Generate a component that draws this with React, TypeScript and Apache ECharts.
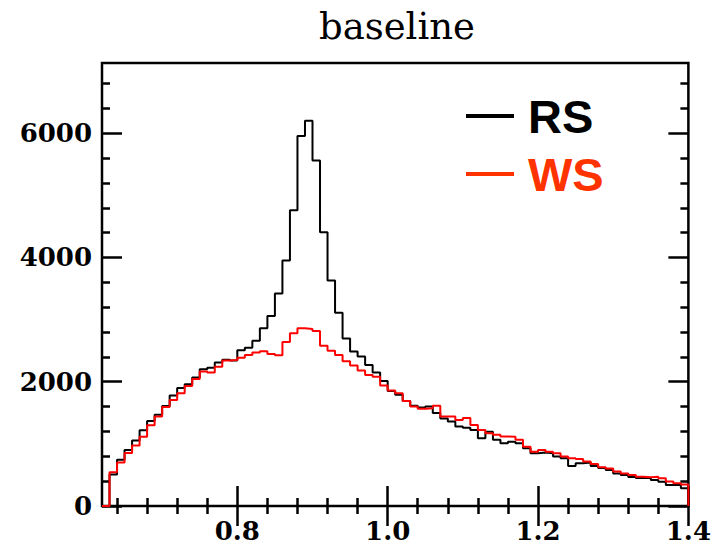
import React, { useEffect, useRef } from "react";
import * as echarts from "echarts";

// Histogram binning (bin edges along the x axis)
const binStart = 0.62;
const binWidth = 0.01;

// RS (right-sign) counts per bin, starting at 0.62
const rsCounts = [
  0, 505, 745, 900, 1055, 1220, 1370, 1470, 1610, 1780,
  1900, 1960, 2070, 2200, 2225, 2310, 2355, 2340, 2505, 2545,
  2660, 2860, 3060, 3420, 3950, 4760, 5955, 6200, 5560, 4405,
  3630, 3110, 2695, 2485, 2405, 2270, 2150, 2010, 1850, 1790,
  1690, 1615, 1585, 1600, 1495, 1410, 1360, 1280, 1260, 1225,
  1090, 1195, 1065, 1010, 1035, 1010, 930, 850, 860, 850,
  795, 770, 645, 690, 700, 645, 610, 580, 525, 500,
  465, 450, 450, 420, 390, 340, 340, 285,
];

// WS (wrong-sign) counts per bin, starting at 0.62
const wsCounts = [
  0, 545, 700, 855, 975, 1115, 1300, 1440, 1595, 1705,
  1815, 1930, 2045, 2165, 2150, 2240, 2340, 2350, 2385, 2430,
  2470, 2490, 2445, 2425, 2640, 2780, 2860, 2850, 2815, 2580,
  2500, 2430, 2330, 2260, 2180, 2110, 2080, 1940, 1860, 1815,
  1690, 1600, 1565, 1575, 1615, 1440, 1440, 1385, 1415, 1305,
  1225, 1170, 1145, 1120, 1115, 1065, 955, 875, 900, 875,
  850, 795, 770, 755, 715, 675, 625, 605, 555, 525,
  500, 472, 462, 470, 445, 395, 365, 345,
];

const xMin = 0.62;
const xMax = 1.4;
const yMin = 0;
const yMax = 7130;

const xMajorTicks = [0.8, 1.0, 1.2, 1.4];
const xMinorTicks = [
  0.64, 0.68, 0.72, 0.76, 0.84, 0.88, 0.92, 0.96,
  1.04, 1.08, 1.12, 1.16, 1.24, 1.28, 1.32, 1.36,
];
const yMajorTicks = [0, 2000, 4000, 6000];
const yMinorTicks = [
  400, 800, 1200, 1600, 2400, 2800, 3200, 3600,
  4400, 4800, 5200, 5600, 6400, 6800,
];

const titleText = "baseline";
const legendItems = [
  { name: "RS", color: "#000000" },
  { name: "WS", color: "#ff3300" },
];
const rsLineColor = "#000000";
const wsLineColor = "#ff0000";

function toSteps(counts: number[]): number[][] {
  const pts: number[][] = counts.map((c, i) => [
    Math.round((binStart + i * binWidth) * 1000) / 1000,
    c,
  ]);
  const end = Math.round((binStart + counts.length * binWidth) * 1000) / 1000;
  pts.push([end, counts[counts.length - 1]]);
  pts.push([end, 0]);
  return pts;
}

const serifFont = "'DejaVu Serif', serif";
const tickStyle = { color: "#000", width: 2.5 };

function xAxisDef(position: "top" | "bottom", ticks: number[], len: number, labels: boolean) {
  return {
    type: "value",
    position,
    offset: 0,
    min: xMin,
    max: xMax,
    axisLine: { show: false },
    splitLine: { show: false },
    axisTick: {
      show: true,
      inside: true,
      length: len,
      customValues: ticks,
      lineStyle: tickStyle,
    },
    axisLabel: labels
      ? {
          show: true,
          customValues: xMajorTicks,
          formatter: (v: number) => v.toFixed(1),
          color: "#000",
          fontFamily: serifFont,
          fontWeight: "bold",
          fontSize: 26,
          lineHeight: 20,
          margin: 15,
        }
      : { show: false },
  };
}

function yAxisDef(position: "left" | "right", ticks: number[], len: number, labels: boolean) {
  return {
    type: "value",
    position,
    offset: 0,
    min: yMin,
    max: yMax,
    axisLine: { show: false },
    splitLine: { show: false },
    axisTick: {
      show: true,
      inside: true,
      length: len,
      customValues: ticks,
      lineStyle: tickStyle,
    },
    axisLabel: labels
      ? {
          show: true,
          customValues: yMajorTicks,
          formatter: (v: number) => String(v),
          color: "#000",
          fontFamily: serifFont,
          fontWeight: "bold",
          fontSize: 26,
          lineHeight: 20,
          margin: 10,
        }
      : { show: false },
  };
}

export default function App() {
  const ref = useRef<HTMLDivElement>(null);

  useEffect(() => {
    if (!ref.current) return;
    const chart = echarts.init(ref.current, undefined, { renderer: "svg" });

    const legendGraphics: any[] = [];
    legendItems.forEach((item, i) => {
      const cy = 116 + i * 58;
      legendGraphics.push({
        type: "line",
        shape: { x1: 466, y1: cy, x2: 514, y2: cy },
        style: { stroke: item.color, lineWidth: 4 },
        z: 10,
      });
      legendGraphics.push({
        type: "text",
        x: 528,
        y: cy,
        style: {
          text: item.name,
          fill: item.color,
          font: "bold 47px 'Liberation Sans', Arial, sans-serif",
          textAlign: "left",
          textVerticalAlign: "middle",
        },
        z: 10,
      });
    });

    chart.setOption({
      animation: false,
      backgroundColor: "#ffffff",
      grid: {
        left: 102,
        top: 63,
        width: 587,
        height: 443,
        show: true,
        borderColor: "#000",
        borderWidth: 2.5,
        backgroundColor: "transparent",
      },
      xAxis: [
        xAxisDef("bottom", xMajorTicks, 20, true),
        xAxisDef("bottom", xMinorTicks, 8, false),
        xAxisDef("top", xMajorTicks, 20, false),
        xAxisDef("top", xMinorTicks, 8, false),
      ],
      yAxis: [
        yAxisDef("left", yMajorTicks, 20, true),
        yAxisDef("left", yMinorTicks, 8, false),
        yAxisDef("right", yMajorTicks, 20, false),
        yAxisDef("right", yMinorTicks, 8, false),
      ],
      graphic: [
        {
          type: "text",
          x: 397,
          y: 26,
          style: {
            text: titleText,
            fill: "#000",
            font: "37px 'DejaVu Serif', serif",
            textAlign: "center",
            textVerticalAlign: "middle",
          },
        },
        ...legendGraphics,
      ],
      series: [
        {
          name: "RS",
          type: "line",
          step: "end",
          xAxisIndex: 0,
          yAxisIndex: 0,
          data: toSteps(rsCounts),
          showSymbol: false,
          symbol: "none",
          lineStyle: { color: rsLineColor, width: 2 },
          itemStyle: { color: rsLineColor },
        },
        {
          name: "WS",
          type: "line",
          step: "end",
          xAxisIndex: 0,
          yAxisIndex: 0,
          data: toSteps(wsCounts),
          showSymbol: false,
          symbol: "none",
          lineStyle: { color: wsLineColor, width: 2 },
          itemStyle: { color: wsLineColor },
        },
      ],
    });

    return () => chart.dispose();
  }, []);

  return (
    <div
      ref={ref}
      style={{ position: "fixed", left: 0, top: 0, width: 714, height: 545 }}
    />
  );
}
